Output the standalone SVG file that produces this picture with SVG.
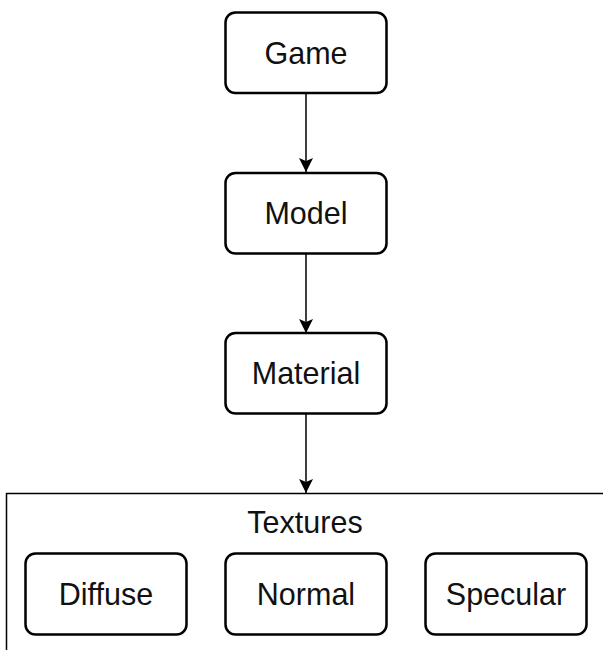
<svg xmlns="http://www.w3.org/2000/svg" width="603" height="650" viewBox="0 0 603 650">
<style>
.node rect{fill:#fff;stroke:#000;stroke-width:2.5}
.node text,.lbl{font-family:"Liberation Sans",Arial,sans-serif;font-size:30.5px;fill:#111;text-anchor:middle;dominant-baseline:central}
.edge{stroke:#000;stroke-width:1.5;fill:none}
</style>
<defs>
<marker id="arr" viewBox="0 0 14 14" refX="14" refY="7" markerWidth="14" markerHeight="14" markerUnits="userSpaceOnUse" orient="auto">
<path d="M0,0 L14,7 L0,14 L3,7 Z" fill="#000"/>
</marker>
</defs>
<g id="textures">
<rect x="6.5" y="493.5" width="620" height="200" fill="#fff" stroke="#000" stroke-width="1.5"/>
<text class="lbl" x="305" y="522">Textures</text>
</g>
<g id="connectors">
<line class="edge" x1="306" y1="93" x2="306" y2="172" marker-end="url(#arr)"/>
<line class="edge" x1="306" y1="253.5" x2="306" y2="333" marker-end="url(#arr)"/>
<line class="edge" x1="306" y1="413.5" x2="306" y2="493" marker-end="url(#arr)"/>
</g>
<g id="game" class="node"><rect x="225.5" y="12.5" width="161" height="80.5" rx="10"/><text x="306" y="52.5">Game</text></g>
<g id="model" class="node"><rect x="225.5" y="173" width="161" height="80.5" rx="10"/><text x="306" y="213">Model</text></g>
<g id="material" class="node"><rect x="225.5" y="333" width="161" height="80.5" rx="10"/><text x="306" y="373">Material</text></g>
<g id="diffuse" class="node"><rect x="25.5" y="553.5" width="161" height="81" rx="10"/><text x="106" y="594">Diffuse</text></g>
<g id="normal" class="node"><rect x="225.5" y="553.5" width="161" height="81" rx="10"/><text x="306" y="594">Normal</text></g>
<g id="specular" class="node"><rect x="425.5" y="553.5" width="161" height="81" rx="10"/><text x="506" y="594">Specular</text></g>
</svg>
